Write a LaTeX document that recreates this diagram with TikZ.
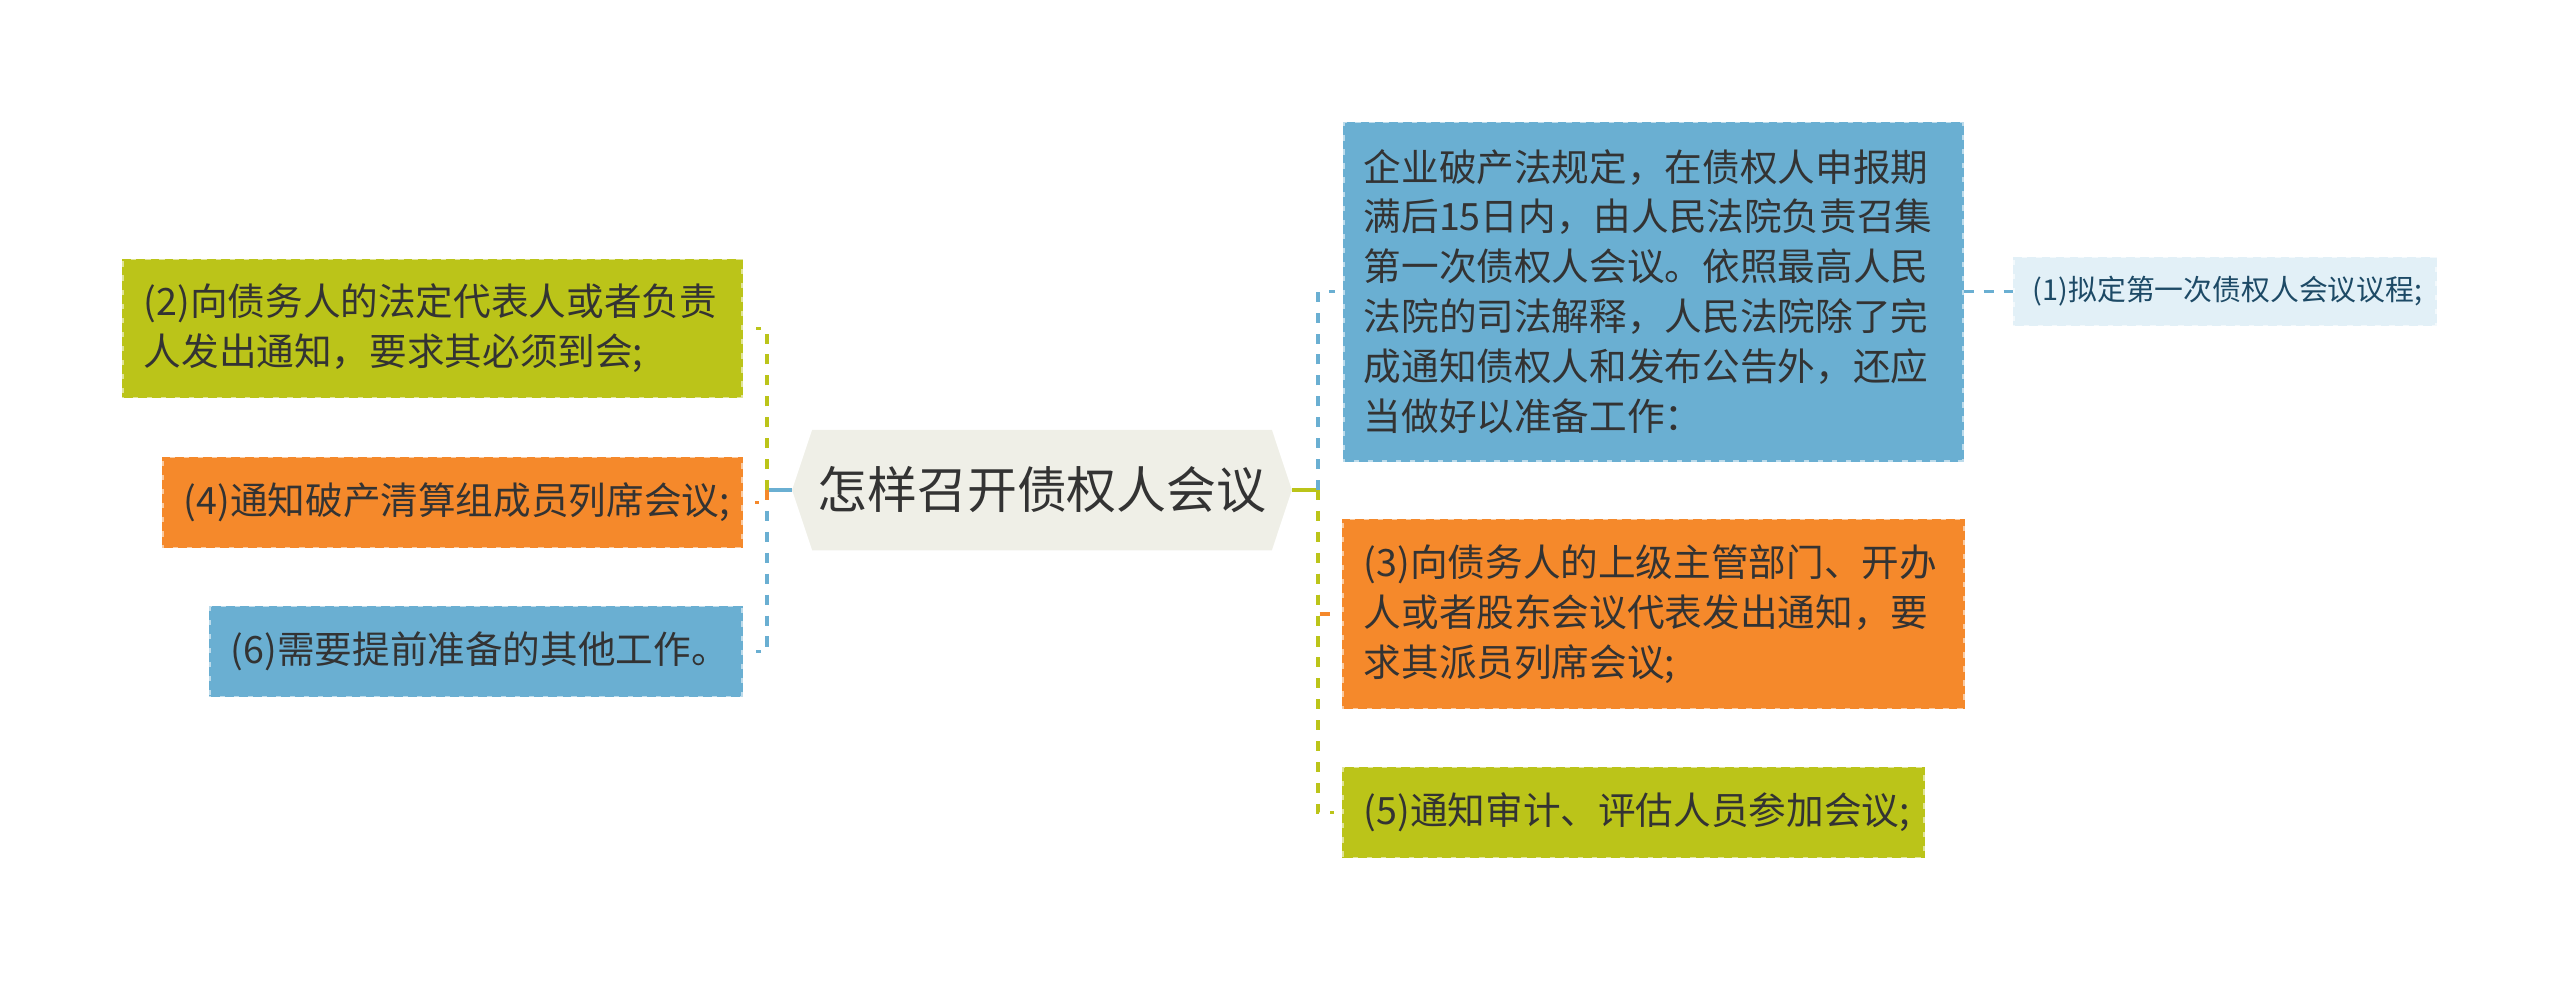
\documentclass[tikz,border=0pt]{standalone}
\usepackage{fontspec}
\setmainfont{Noto Sans CJK SC}
\usetikzlibrary{backgrounds}

\definecolor{oliveC}{HTML}{BBC419}
\definecolor{orangeC}{HTML}{F5892B}
\definecolor{blueC}{HTML}{6AAFD2}
\definecolor{noteC}{HTML}{E2F0F7}
\definecolor{rootC}{HTML}{EFEFE7}
\definecolor{textC}{HTML}{333333}
\definecolor{noteText}{HTML}{1D4A66}

\tikzset{
  box/.style={rectangle, align=left, inner xsep=0.2cm, inner ysep=0pt,
    text=textC, font=\fontsize{10.7pt}{14.2pt}\selectfont,
    line width=0.8pt, dash pattern=on 2.5pt off 1.5pt},
  greenbox/.style={box, fill=oliveC, draw=oliveC,
    preaction={draw=oliveC!45!white, solid, line width=0.8pt}},
  orangebox/.style={box, fill=orangeC, draw=orangeC,
    preaction={draw=orangeC!45!white, solid, line width=0.8pt}},
  bluebox/.style={box, fill=blueC, draw=blueC,
    preaction={draw=blueC!45!white, solid, line width=0.8pt}},
  notebox/.style={box, fill=noteC, draw=noteC, inner xsep=0.18cm,
    preaction={draw=noteC!40!white, solid, line width=0.8pt},
    text=noteText, font=\fontsize{8.2pt}{10pt}\selectfont},
  rootnode/.style={rectangle, inner sep=0pt, text=textC,
    font=\fontsize{14.2pt}{16pt}\selectfont},
  link/.style={line width=1pt, dash pattern=on 2.85pt off 3.1pt},
  solidlink/.style={line width=1pt},
  notelink/.style={line width=0.7pt, dash pattern=on 2.85pt off 2.85pt}
}

\begin{document}
\begin{tikzpicture}[x=0.01cm,y=-0.01cm]
  \useasboundingbox (0,0) rectangle (2560,981);

  % root
  \node[rootnode, minimum width=4.98cm, minimum height=1.19cm] (root) at (1042,490) {怎样召开债权人会议};
  \begin{scope}[on background layer]
    \fill[rootC] (root.west) -- ([xshift=0.2cm]root.north west) -- ([xshift=-0.2cm]root.north east)
      -- (root.east) -- ([xshift=-0.2cm]root.south east) -- ([xshift=0.2cm]root.south west) -- cycle;
  \end{scope}

  % left side
  \node[greenbox, text width=5.77cm, minimum height=1.37cm] (n2) at (432.5,328.5)
    {(2)向债务人的法定代表人或者负责\\人发出通知，要求其必须到会;};
  \node[orangebox, text width=5.37cm, minimum height=0.89cm] (n4) at (452.5,502.5)
    {(4)通知破产清算组成员列席会议;};
  \node[bluebox, text width=4.90cm, minimum height=0.89cm] (n6) at (476,651.5)
    {(6)需要提前准备的其他工作。};

  % right side
  \node[bluebox, text width=5.79cm, inner xsep=0.19cm, minimum height=3.37cm] (n0) at (1653.5,291.5)
    {企业破产法规定，在债权人申报期\\满后15日内，由人民法院负责召集\\第一次债权人会议。依照最高人民\\法院的司法解释，人民法院除了完\\成通知债权人和发布公告外，还应\\当做好以准备工作：};
  \node[notebox, text width=3.84cm, minimum height=0.67cm] (n1) at (2225,291.5)
    {(1)拟定第一次债权人会议议程;};
  \node[orangebox, text width=5.79cm, minimum height=1.88cm] (n3) at (1653.5,614)
    {(3)向债务人的上级主管部门、开办\\人或者股东会议代表发出通知，要\\求其派员列席会议;};
  \node[greenbox, text width=5.39cm, minimum height=0.89cm] (n5) at (1633.5,812.5)
    {(5)通知审计、评估人员参加会议;};

  \coordinate (lsp) at (767,490);
  \coordinate (rsp) at (1318,490);

  % connectors
  \draw[solidlink, blueC] (root.west) -- (lsp);
  \draw[solidlink, oliveC] (root.east) -- (rsp);

  \draw[link, oliveC, shorten >=0.13cm] (lsp) |- (n2.east);
  \draw[link, blueC, shorten >=0.13cm] (lsp) |- (n6.east);
  \draw[link, orangeC, shorten >=0.12cm] (lsp) |- (n4.east);

  \draw[link, blueC, shorten >=0.08cm] (rsp) |- (n0.west);
  \draw[link, orangeC, shorten >=0.08cm] (rsp) |- (n3.west);
  \draw[link, oliveC, shorten >=0.08cm] (rsp) |- (n5.west);

  \draw[notelink, blueC] (n0.east) -- (n1.west);
\end{tikzpicture}
\end{document}
